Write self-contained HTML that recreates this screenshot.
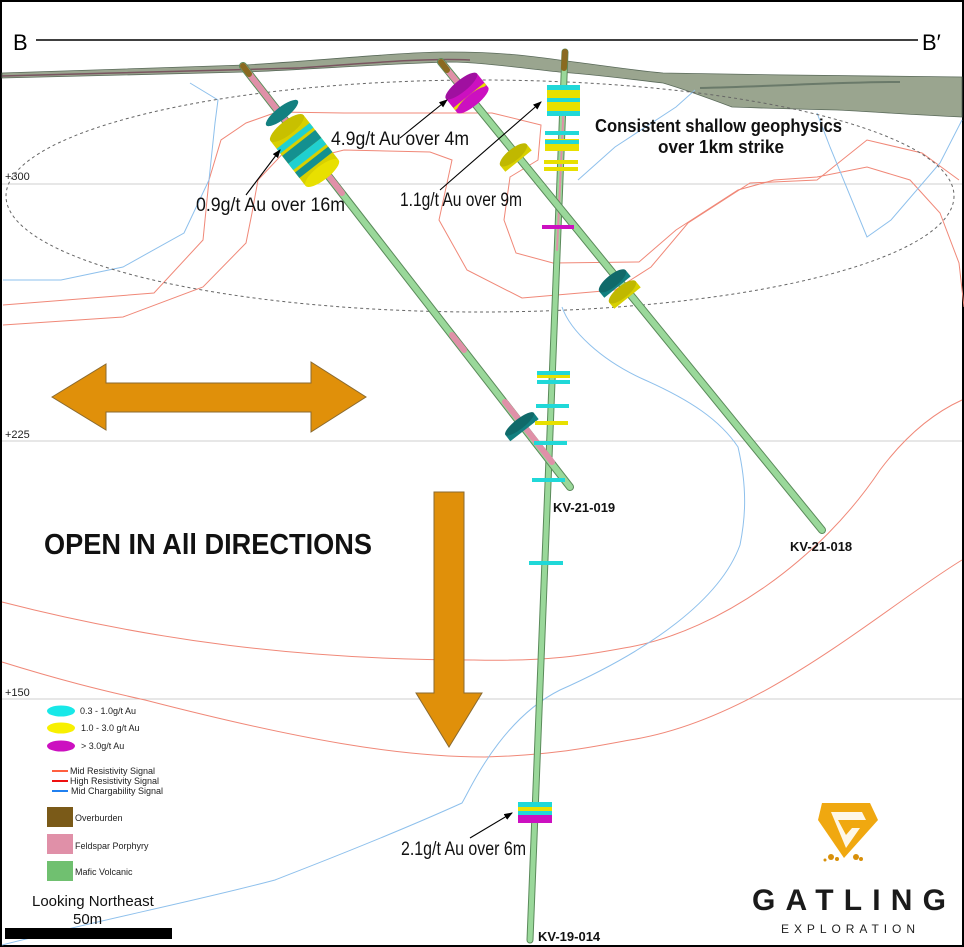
<!DOCTYPE html>
<html><head><meta charset="utf-8"><style>
html,body{margin:0;padding:0;background:#fff}
svg{display:block;font-family:"Liberation Sans",sans-serif}
</style></head><body>
<svg width="964" height="947" viewBox="0 0 964 947" xmlns="http://www.w3.org/2000/svg">
<rect x="1" y="1" width="962" height="945" fill="#fff" stroke="#000" stroke-width="2"/>
<g stroke="#cfcfcf" stroke-width="1">
<line x1="2" y1="184" x2="962" y2="184"/><line x1="2" y1="441" x2="962" y2="441"/><line x1="2" y1="699" x2="962" y2="699"/>
</g>
<g font-size="11" fill="#222"><text x="5" y="180">+300</text><text x="5" y="438">+225</text><text x="5" y="696">+150</text></g>
<line x1="36" y1="40" x2="918" y2="40" stroke="#000" stroke-width="1.5"/>
<text x="13" y="50" font-size="22">B</text><text x="922" y="50" font-size="22">B′</text>
<!-- surface -->
<path d="M2,73 C100,70 180,67 245,65 C330,60 400,52 449,52 C500,52 530,56 559,60 C600,65 630,70 663,73 C760,75 880,76 962,77 L962,117 C900,114 860,111 837,110 C790,109 760,108 732,107 C700,95 680,88 663,83 C620,78 590,74 559,72 C520,68 480,62 449,62 C380,64 300,70 245,72 C160,74 80,76 2,78 Z" fill="#9aa58f" stroke="#5a6a5a" stroke-width="0.8"/>
<path d="M2,76 C100,73 200,70 300,68 C380,62 430,58 470,60" fill="none" stroke="#7a5560" stroke-width="1.5"/>
<path d="M700,88 C780,86 840,82 900,82" fill="none" stroke="#6a7a6a" stroke-width="2"/>
<!-- red contours -->
<g fill="none" stroke="#f08878" stroke-width="1">
<polyline points="3,305 154,293 203,240 209,180 221,140 246,123 277,112 344,113 418,113 492,113 541,125 538,160 510,177 504,220 516,253 553,263 639,262 676,230 738,190 774,180 817,177 867,167 910,180 940,213 959,263 964,307"/>
<polyline points="3,325 123,317 203,287 246,243 252,213 258,180 289,147 332,153 344,150 430,152 452,160 439,220 467,270 522,298 615,290 651,267 688,223 750,183 817,180 867,140 922,153 959,180"/>
<path d="M2,602 C150,640 300,660 474,660 C560,662 600,652 630,647 C720,630 820,560 880,470 C910,430 940,410 962,400"/>
<path d="M2,662 C60,680 100,690 145,700 C300,740 400,757 485,757 C560,755 600,745 630,740 C760,720 880,610 962,560"/>
</g>
<!-- blue contours -->
<g fill="none" stroke="#8ec0ec" stroke-width="1">
<polyline points="3,280 61,280 123,267 184,233 209,180 215,123 218,100 190,83"/>
<polyline points="578,180 615,147 676,107 695,90"/>
<polyline points="817,113 830,147 867,237 891,220 940,163 962,120"/>
<path d="M562,307 C570,330 600,360 645,380 C690,400 720,420 738,447 C748,490 745,520 740,545 C720,600 650,650 560,690 C500,720 470,790 462,803 C380,840 300,870 275,880 C200,900 100,920 2,945"/>
</g>
<ellipse cx="480" cy="196" rx="474" ry="116" fill="none" stroke="#666" stroke-width="1" stroke-dasharray="3,3"/>
<!-- holes -->
<g stroke-linecap="round">
<line x1="565" y1="52" x2="530" y2="940" stroke="#5a8a5a" stroke-width="7"/>
<line x1="565" y1="52" x2="530" y2="940" stroke="#9ad89a" stroke-width="5"/>
<line x1="565" y1="52" x2="564" y2="68" stroke="#8a6a20" stroke-width="6"/>
<line x1="564" y1="100" x2="557" y2="250" stroke="#e090a8" stroke-width="2"/>
<line x1="243" y1="66" x2="570" y2="487" stroke="#5a8a5a" stroke-width="8"/>
<line x1="243" y1="66" x2="570" y2="487" stroke="#9ad89a" stroke-width="6"/>
<line x1="243" y1="66" x2="342" y2="193" stroke="#e090a8" stroke-width="6"/>
<line x1="243" y1="66" x2="249" y2="74" stroke="#8a6a20" stroke-width="6"/>
<line x1="452" y1="335" x2="464" y2="350" stroke="#e090a8" stroke-width="6"/>
<line x1="505" y1="402" x2="552" y2="462" stroke="#e090a8" stroke-width="6"/>
<line x1="441" y1="62" x2="822" y2="530" stroke="#5a8a5a" stroke-width="8"/>
<line x1="441" y1="62" x2="822" y2="530" stroke="#9ad89a" stroke-width="6"/>
<line x1="441" y1="62" x2="470" y2="98" stroke="#e090a8" stroke-width="6"/>
<line x1="441" y1="62" x2="447" y2="70" stroke="#8a6a20" stroke-width="6"/>
</g>
<!-- discs hole 019 -->
<ellipse cx="282" cy="113" rx="6" ry="20" fill="#138080" transform="rotate(52 282 113)"/>
<g transform="translate(287,128) rotate(52)">
<rect x="0" y="-21" width="57" height="42" fill="#d8d000"/>
<rect x="10" y="-21" width="6" height="42" fill="#20d0d0"/>
<rect x="19" y="-21" width="10" height="42" fill="#149090"/>
<rect x="29" y="-21" width="8" height="42" fill="#20d0d0"/>
<rect x="40" y="-21" width="7" height="42" fill="#149090"/>
<ellipse cx="57" cy="0" rx="7" ry="21" fill="#e8e000"/>
<ellipse cx="0" cy="0" rx="7" ry="21" fill="#c8c000"/>
</g>
<g transform="translate(522,427) rotate(52)"><rect x="-4" y="-18" width="8" height="36" fill="#138080"/><ellipse cx="-4" cy="0" rx="5" ry="18" fill="#106a6a"/></g>
<!-- hole 018 -->
<g transform="translate(467,93) rotate(51)">
<rect x="-9" y="-20" width="18" height="40" fill="#cc10c0"/><rect x="3" y="-20" width="3" height="40" fill="#e8e000"/>
<ellipse cx="-9" cy="0" rx="6" ry="20" fill="#a010a0"/><ellipse cx="9" cy="0" rx="6" ry="20" fill="#cc10c0"/>
</g>
<g transform="translate(516,158) rotate(51)"><rect x="-4" y="-17" width="8" height="34" fill="#d8d000"/><ellipse cx="-4" cy="0" rx="6" ry="17" fill="#c0b800"/></g>
<g transform="translate(615,284) rotate(51)"><rect x="-4" y="-17" width="8" height="34" fill="#138080"/><ellipse cx="-4" cy="0" rx="6" ry="17" fill="#106a6a"/></g>
<g transform="translate(625,295) rotate(51)"><rect x="-4" y="-17" width="8" height="34" fill="#d8d000"/><ellipse cx="-4" cy="0" rx="6" ry="17" fill="#c0b800"/></g>
<!-- hole 014 bars -->
<g>
<rect x="547" y="85" width="33" height="31" fill="#e8e000"/>
<rect x="547" y="85" width="33" height="5" fill="#20d8d8"/><rect x="547" y="98" width="33" height="4" fill="#20d8d8"/><rect x="547" y="111" width="33" height="5" fill="#20d8d8"/>
<rect x="545" y="131" width="34" height="4" fill="#20d8d8"/>
<rect x="545" y="139" width="34" height="12" fill="#e8e000"/><rect x="545" y="140" width="34" height="4" fill="#20d8d8"/>
<rect x="544" y="160" width="34" height="4" fill="#e8e000"/><rect x="544" y="167" width="34" height="4" fill="#e8e000"/>
<rect x="542" y="225" width="32" height="4" fill="#cc10c0"/>
<rect x="537" y="371" width="33" height="4" fill="#20d8d8"/><rect x="537" y="375" width="33" height="3" fill="#e8e000"/><rect x="537" y="380" width="33" height="4" fill="#20d8d8"/>
<rect x="536" y="404" width="33" height="4" fill="#20d8d8"/>
<rect x="535" y="421" width="33" height="4" fill="#e8e000"/>
<rect x="534" y="441" width="33" height="4" fill="#20d8d8"/>
<rect x="532" y="478" width="33" height="4" fill="#20d8d8"/>
<rect x="529" y="561" width="34" height="4" fill="#20d8d8"/>
<rect x="518" y="802" width="34" height="21" fill="#20d8d8"/><rect x="518" y="807" width="34" height="4" fill="#e8e000"/><rect x="518" y="815" width="34" height="8" fill="#cc10c0"/>
</g>
<g font-size="13" font-weight="bold" fill="#111">
<text x="553" y="512">KV-21-019</text><text x="790" y="551">KV-21-018</text><text x="538" y="941">KV-19-014</text>
</g>
<defs><marker id="ah" markerWidth="8" markerHeight="8" refX="7" refY="4" orient="auto"><path d="M0,1 L8,4 L0,7 Z" fill="#000"/></marker></defs>
<g stroke="#000" stroke-width="1.1" marker-end="url(#ah)">
<line x1="246" y1="195" x2="280" y2="150"/>
<line x1="400" y1="138" x2="447" y2="100"/>
<line x1="440" y1="190" x2="541" y2="102"/>
<line x1="470" y1="838" x2="512" y2="813"/>
</g>
<g font-size="19" fill="#111">
<text x="196" y="211" textLength="149" lengthAdjust="spacingAndGlyphs">0.9g/t Au over 16m</text>
<text x="331" y="145" textLength="138" lengthAdjust="spacingAndGlyphs">4.9g/t Au over 4m</text>
<text x="400" y="206" textLength="122" lengthAdjust="spacingAndGlyphs">1.1g/t Au over 9m</text>
<text x="401" y="855" textLength="125" lengthAdjust="spacingAndGlyphs">2.1g/t Au over 6m</text>
</g>
<g font-size="18" font-weight="bold" fill="#111">
<text x="595" y="132" textLength="247" lengthAdjust="spacingAndGlyphs">Consistent shallow geophysics</text>
<text x="658" y="153" textLength="126" lengthAdjust="spacingAndGlyphs">over 1km strike</text>
</g>
<path d="M52,397 L106,364 L106,383 L311,383 L311,362 L366,397 L311,432 L311,412 L106,412 L106,430 Z" fill="#e0900a" stroke="#8a6a30" stroke-width="1"/>
<path d="M434,492 L464,492 L464,693 L482,693 L449,747 L416,693 L434,693 Z" fill="#e0900a" stroke="#8a6a30" stroke-width="1"/>
<text x="44" y="554" font-size="29" font-weight="bold" fill="#111" textLength="328" lengthAdjust="spacingAndGlyphs">OPEN IN All DIRECTIONS</text>
<!-- legend -->
<ellipse cx="61" cy="711" rx="14" ry="5.5" fill="#18e8e8"/>
<ellipse cx="61" cy="728" rx="14" ry="5.5" fill="#f8f000"/>
<ellipse cx="61" cy="746" rx="14" ry="5.5" fill="#cc10c0"/>
<g font-size="9" fill="#222"><text x="80" y="714">0.3 - 1.0g/t Au</text><text x="81" y="731">1.0 - 3.0 g/t Au</text><text x="81" y="749">&gt; 3.0g/t Au</text>
<text x="70" y="774">Mid Resistivity Signal</text><text x="70" y="784">High Resistivity Signal</text><text x="71" y="794">Mid Chargability Signal</text>
<text x="75" y="821">Overburden</text><text x="75" y="849">Feldspar Porphyry</text><text x="75" y="875">Mafic Volcanic</text></g>
<line x1="52" y1="771" x2="68" y2="771" stroke="#ff6040" stroke-width="2"/>
<line x1="52" y1="781" x2="68" y2="781" stroke="#ee1010" stroke-width="2"/>
<line x1="52" y1="791" x2="68" y2="791" stroke="#2080f0" stroke-width="2"/>
<rect x="47" y="807" width="26" height="20" fill="#7a5a18"/>
<rect x="47" y="834" width="26" height="20" fill="#e090a8"/>
<rect x="47" y="861" width="26" height="20" fill="#70c070"/>
<text x="32" y="906" font-size="15" fill="#111">Looking Northeast</text>
<text x="73" y="924" font-size="15" fill="#111">50m</text>
<rect x="5" y="928" width="167" height="11" fill="#000"/>
<!-- logo -->
<path d="M822,803 L870,803 L878,820 L844,858 L818,820 Z" fill="#f0a810"/>
<path d="M831,812 L862,812 L866,820 L838,820 L846,835 L852,828 L860,828 L846,848 Z" fill="#fff" opacity="0.9"/>
<g fill="#d8900a"><circle cx="831" cy="857" r="3"/><circle cx="837" cy="859" r="2"/><circle cx="856" cy="857" r="3"/><circle cx="861" cy="859" r="2"/><circle cx="825" cy="860" r="1.5"/></g>
<text x="752" y="910" font-size="30" font-weight="bold" fill="#1a1a1a" textLength="194" lengthAdjust="spacing">GATLING</text>
<text x="781" y="933" font-size="12" fill="#222" textLength="134" lengthAdjust="spacing">EXPLORATION</text>
</svg>
</body></html>
